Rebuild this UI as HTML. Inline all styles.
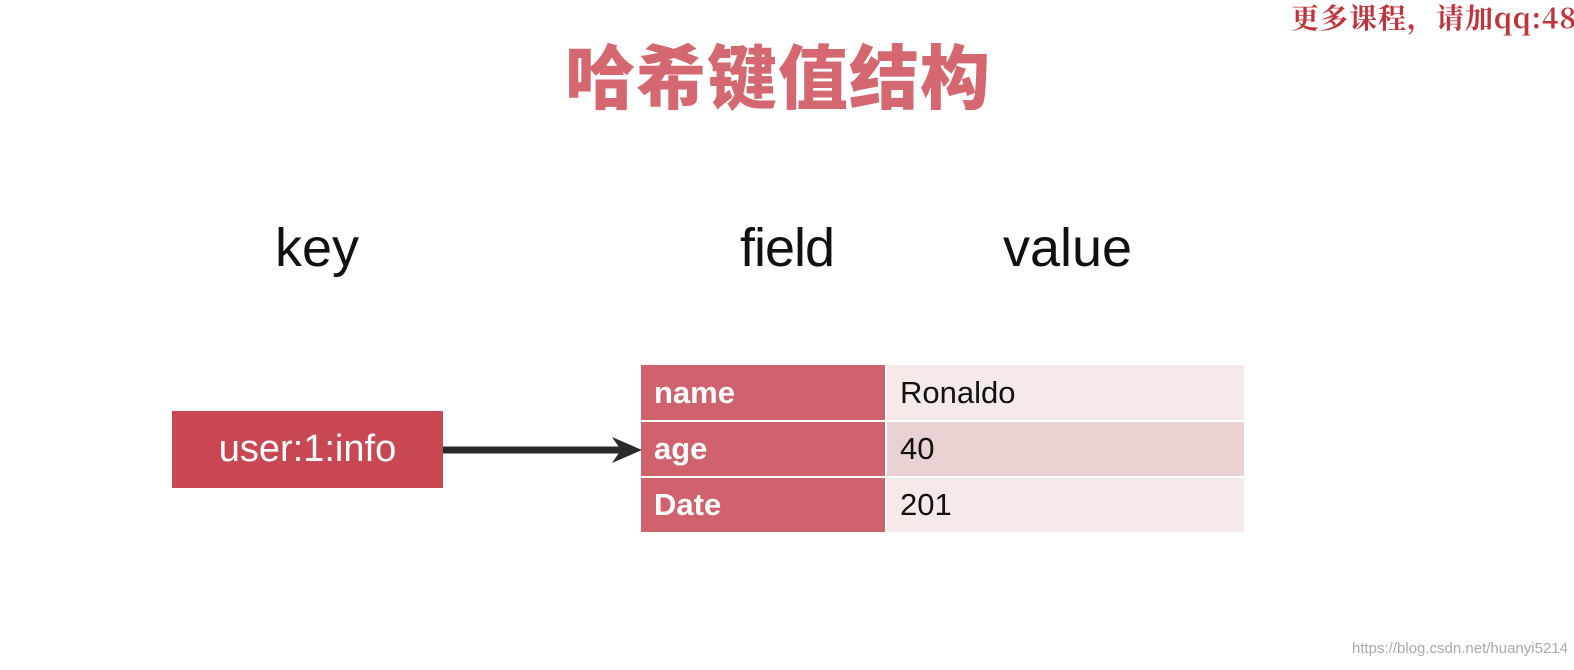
<!DOCTYPE html>
<html><head><meta charset="utf-8"><style>
body{margin:0;width:1574px;height:670px;background:#fff;position:relative;overflow:hidden;font-family:"Liberation Sans","Noto Sans CJK SC",sans-serif}
.a{position:absolute;white-space:nowrap}
.c{position:absolute;box-sizing:border-box;font-size:31px;padding-left:13px;display:flex;align-items:center}
.f{background:#d0626d;color:#fff;font-weight:bold;left:641px;width:244px}
.v{background:#f6e9e9;color:#111;left:887px;width:357px}
</style></head><body>
<div class="a" style="left:1291px;top:-3px;font-size:28px;font-weight:bold;color:#c0353d;font-family:'Noto Serif CJK SC',serif;letter-spacing:1px">更多课程，请加qq:48</div>
<div class="a" style="left:565px;top:23px;font-size:70px;font-weight:900;color:#d56770;font-family:'Noto Sans CJK SC',sans-serif;letter-spacing:1px">哈希键值结构</div>
<div class="a" style="left:275px;top:217px;font-size:54px;color:#111">key</div>
<div class="a" style="left:740px;top:217px;font-size:54px;color:#111;letter-spacing:-1px">field</div>
<div class="a" style="left:1003px;top:217px;font-size:54px;color:#111">value</div>
<div class="a" style="left:172px;top:411px;width:271px;height:77px;background:#c94653;color:#fff;font-size:38px;display:flex;align-items:center;justify-content:center">user:1:info</div>
<svg class="a" style="left:440px;top:430px" width="205" height="40"><line x1="3" y1="20" x2="182" y2="20" stroke="#2a2a2a" stroke-width="7"/><polygon points="172,7 202,20 172,33 181,20" fill="#2a2a2a"/></svg>
<div class="c f" style="top:365px;height:55px">name</div>
<div class="c v" style="top:365px;height:55px">Ronaldo</div>
<div class="c f" style="top:422px;height:54px">age</div>
<div class="c v" style="top:422px;height:54px;background:#ead2d3">40</div>
<div class="c f" style="top:478px;height:54px">Date</div>
<div class="c v" style="top:478px;height:54px">201</div>
<div class="a" style="left:1352px;top:640px;font-size:15px;color:#aaa">https://blog.csdn.net/huanyi5214</div>
</body></html>
